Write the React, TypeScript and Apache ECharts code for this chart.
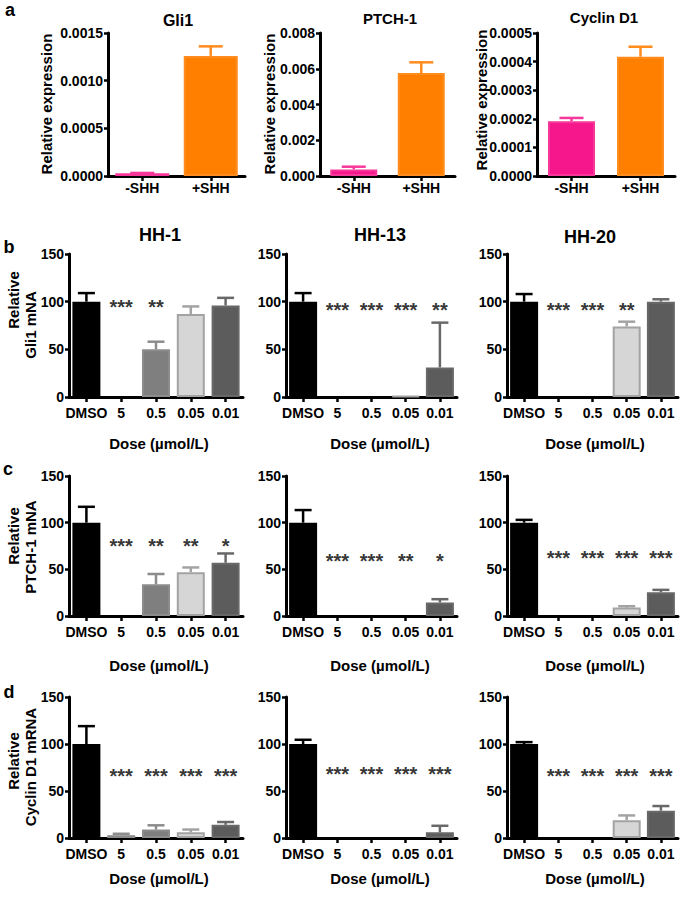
import React, { useEffect, useRef } from "react";
import * as echarts from "echarts";

// ---------- data ----------
const shhCats = ["-SHH", "+SHH"];
const gli1Mean = [0.000028, 0.00126];
const gli1Sem = [0.000004, 0.0001];
const ptch1Mean = [0.00037, 0.00576];
const ptch1Sem = [0.00015, 0.0006];
const cyclinMean = [0.000191, 0.000417];
const cyclinSem = [0.000012, 0.000035];

const doseCats = ["DMSO", "5", "0.5", "0.05", "0.01"];
const cellLines = ["HH-1", "HH-13", "HH-20"];

const gliHH1Mean = [100, 0, 50, 87, 96];
const gliHH1Sem = [9, 0, 8, 8, 8];
const gliHH13Mean = [100, 0, 0, 1, 31];
const gliHH13Sem = [9, 0, 0, 0, 47];
const gliHH20Mean = [100, 0, 0, 74, 100];
const gliHH20Sem = [8, 0, 0, 5, 2.5];

const ptchHH1Mean = [100, 0, 34, 47, 57];
const ptchHH1Sem = [17, 0, 11, 5, 10];
const ptchHH13Mean = [100, 0, 0, 0, 14.5];
const ptchHH13Sem = [13.5, 0, 0, 0, 3.5];
const ptchHH20Mean = [100, 0, 0, 9, 25.5];
const ptchHH20Sem = [3, 0, 0, 1.5, 2.5];

const cycHH1Mean = [100, 3, 9, 6, 14];
const cycHH1Sem = [19, 1.5, 4.5, 3, 3];
const cycHH13Mean = [100, 0, 0, 0, 6];
const cycHH13Sem = [4.5, 0, 0, 0, 7];
const cycHH20Mean = [100, 0, 0, 19, 29];
const cycHH20Sem = [2, 0, 0, 5, 5];

const gliHH1Stars = ["", "***", "**", "", ""];
const gliHH13Stars = ["", "***", "***", "***", "**"];
const gliHH20Stars = ["", "***", "***", "**", ""];
const ptchHH1Stars = ["", "***", "**", "**", "*"];
const ptchHH13Stars = ["", "***", "***", "**", "*"];
const ptchHH20Stars = ["", "***", "***", "***", "***"];
const cycHH1Stars = ["", "***", "***", "***", "***"];
const cycHH13Stars = ["", "***", "***", "***", "***"];
const cycHH20Stars = ["", "***", "***", "***", "***"];

const starLevels = [100, 96, 97, 80, 64, 67, 71, 73, 71];

const shhTitles = ["Gli1", "PTCH-1", "Cyclin D1"];
const rowNames = [
  ["Relative", "Gli1 mNA"],
  ["Relative", "PTCH-1 mNA"],
  ["Relative", "Cyclin D1 mRNA"],
];
const doseName = "Dose (\u00b5mol/L)";

// ---------- styling ----------
const FONT = "'Liberation Sans', Arial, Helvetica, sans-serif";
const shhFill = ["#f7178c", "#ff8000"];
const shhBorder = ["#f8379b", "#ff8c1f"];
const doseFill = ["#000000", "#8a8a8a", "#7f7f7f", "#d6d6d6", "#5c5c5c"];
const doseBorder = ["#000000", "#8c8c8c", "#8c8c8c", "#a3a3a3", "#686868"];

const W = 685;
const H = 902;

type Panel = {
  cats: string[];
  mean: number[];
  sem: number[];
  stars?: string[];
  starLevel?: number;
  left: number;
  top: number;
  width: number;
  height: number;
  max: number;
  interval: number;
  digits: number;
  fill: string[];
  border: string[];
  barWidth: number;
  cap: number;
  labelMargin: number;
};

function buildPanels(): Panel[] {
  const panels: Panel[] = [];
  const aLayout = [
    { left: 108, width: 137, barWidth: 54, cap: 12 },
    { left: 320, width: 135, barWidth: 47, cap: 12 },
    { left: 537, width: 138, barWidth: 47, cap: 12 },
  ];
  const aMeans = [gli1Mean, ptch1Mean, cyclinMean];
  const aSems = [gli1Sem, ptch1Sem, cyclinSem];
  const aMax = [0.0015, 0.008, 0.0005];
  const aInt = [0.0005, 0.002, 0.0001];
  const aDig = [4, 3, 4];
  for (let i = 0; i < 3; i++) {
    panels.push({
      cats: shhCats,
      mean: aMeans[i],
      sem: aSems[i],
      left: aLayout[i].left,
      top: 33,
      width: aLayout[i].width,
      height: 143,
      max: aMax[i],
      interval: aInt[i],
      digits: aDig[i],
      fill: shhFill,
      border: shhBorder,
      barWidth: aLayout[i].barWidth,
      cap: aLayout[i].cap,
      labelMargin: 5,
    });
  }
  const rowMeans = [
    [gliHH1Mean, gliHH13Mean, gliHH20Mean],
    [ptchHH1Mean, ptchHH13Mean, ptchHH20Mean],
    [cycHH1Mean, cycHH13Mean, cycHH20Mean],
  ];
  const rowSems = [
    [gliHH1Sem, gliHH13Sem, gliHH20Sem],
    [ptchHH1Sem, ptchHH13Sem, ptchHH20Sem],
    [cycHH1Sem, cycHH13Sem, cycHH20Sem],
  ];
  const rowStars = [
    [gliHH1Stars, gliHH13Stars, gliHH20Stars],
    [ptchHH1Stars, ptchHH13Stars, ptchHH20Stars],
    [cycHH1Stars, cycHH13Stars, cycHH20Stars],
  ];
  const rowTop = [254, 476, 697];
  const rowH = [143, 140, 141];
  const colLeft = [69, 286, 507];
  const colW = [174, 171, 171];
  for (let r = 0; r < 3; r++) {
    for (let c = 0; c < 3; c++) {
      panels.push({
        cats: doseCats,
        mean: rowMeans[r][c],
        sem: rowSems[r][c],
        stars: rowStars[r][c],
        starLevel: starLevels[r * 3 + c],
        left: colLeft[c],
        top: rowTop[r],
        width: colW[c],
        height: rowH[r],
        max: 150,
        interval: 50,
        digits: 0,
        fill: doseFill,
        border: doseBorder,
        barWidth: 28,
        cap: 8.5,
        labelMargin: 9,
      });
    }
  }
  return panels;
}

function buildOption() {
  const panels = buildPanels();
  const grid: any[] = [];
  const xAxis: any[] = [];
  const yAxis: any[] = [];
  const series: any[] = [];
  const axisLine = { show: true, lineStyle: { color: "#000", width: 3 } };
  const axisTick = { show: true, length: 5, lineStyle: { color: "#000", width: 2.5 } };

  panels.forEach((p, g) => {
    grid.push({ left: p.left, top: p.top, width: p.width, height: p.height, containLabel: false });
    xAxis.push({
      type: "category",
      gridIndex: g,
      data: p.cats,
      axisLine,
      axisTick: { ...axisTick, alignWithLabel: true },
      axisLabel: {
        color: "#000",
        fontFamily: FONT,
        fontWeight: "bold",
        fontSize: 14,
        margin: p.labelMargin,
        interval: 0,
      },
      splitLine: { show: false },
    });
    yAxis.push({
      type: "value",
      gridIndex: g,
      min: 0,
      max: p.max,
      interval: p.interval,
      axisLine,
      axisTick: { ...axisTick, length: 4 },
      axisLabel: {
        color: "#000",
        fontFamily: FONT,
        fontWeight: "bold",
        fontSize: 14,
        margin: 5,
        formatter: (v: number) => v.toFixed(p.digits),
      },
      splitLine: { show: false },
    });
    series.push({
      type: "bar",
      xAxisIndex: g,
      yAxisIndex: g,
      barWidth: p.barWidth,
      z: 2,
      data: p.mean.map((v, i) => ({
        value: v,
        itemStyle: { color: p.fill[i], borderColor: p.border[i], borderWidth: v > 0 ? 2 : 0 },
      })),
    });
    const colors = p.border;
    const cap = p.cap;
    series.push({
      type: "custom",
      xAxisIndex: g,
      yAxisIndex: g,
      z: 3,
      encode: { x: 0, y: [1, 2] },
      data: p.mean.map((m, i) => [i, m, m + p.sem[i]]),
      renderItem: (params: any, api: any) => {
        const i = api.value(0);
        const m = api.value(1);
        const t = api.value(2);
        if (!(t > m)) return null;
        const p0 = api.coord([i, m]);
        const p1 = api.coord([i, t]);
        const c = colors[params.dataIndex];
        return {
          type: "group",
          children: [
            { type: "line", shape: { x1: p0[0], y1: p0[1], x2: p1[0], y2: p1[1] }, style: { stroke: c, lineWidth: 2.5 } },
            { type: "line", shape: { x1: p1[0] - cap, y1: p1[1], x2: p1[0] + cap, y2: p1[1] }, style: { stroke: c, lineWidth: 2.5 } },
          ],
        };
      },
    });
    if (p.stars) {
      const lvl = p.starLevel as number;
      series.push({
        type: "scatter",
        xAxisIndex: g,
        yAxisIndex: g,
        symbolSize: 0,
        z: 4,
        silent: true,
        data: p.stars
          .map((s, i) => (s ? { name: s, value: [i, lvl] } : null))
          .filter((d) => d !== null),
        label: {
          show: true,
          position: "inside",
          formatter: "{b}",
          color: "#000",
          fontFamily: FONT,
          fontWeight: "bold",
          fontSize: 20,
          offset: [0, 5],
        },
      });
    }
  });

  const txt = (text: string, x: number, y: number, size: number, extra: any = {}) => ({
    type: "text",
    x,
    y,
    silent: true,
    ...extra,
    style: {
      text,
      fill: "#000",
      font: `bold ${size}px ${FONT}`,
      textAlign: "center",
      textVerticalAlign: "middle",
    },
  });

  const graphic: any[] = [
    txt("a", 10, 10, 18),
    txt("b", 9, 247, 18),
    txt("c", 8, 469, 18),
    txt("d", 9, 692, 18),
    txt(shhTitles[0], 178, 20, 16),
    txt(shhTitles[1], 390, 18, 15),
    txt(shhTitles[2], 604, 17, 15),
    txt("Relative expression", 46, 104, 15, { rotation: Math.PI / 2 }),
    txt("Relative expression", 269, 104, 15, { rotation: Math.PI / 2 }),
    txt("Relative expression", 481, 100, 15, { rotation: Math.PI / 2 }),
    txt(cellLines[0], 160, 235, 18),
    txt(cellLines[1], 380, 235, 18),
    txt(cellLines[2], 590, 237, 18),
  ];
  const nameY = [
    [300, 325],
    [536, 547],
    [761, 767],
  ];
  rowNames.forEach((rn, r) => {
    graphic.push(txt(rn[0], 13, nameY[r][0], 15, { rotation: Math.PI / 2 }));
    graphic.push(txt(rn[1], 30, nameY[r][1], 15, { rotation: Math.PI / 2 }));
  });
  const doseX = [159, 380, 595];
  const doseY = [443, 665, 878];
  doseY.forEach((y) => doseX.forEach((x) => graphic.push(txt(doseName, x, y, 15))));

  return {
    animation: false,
    backgroundColor: "#ffffff",
    grid,
    xAxis,
    yAxis,
    series,
    graphic,
  };
}

export default function App() {
  const ref = useRef<HTMLDivElement>(null);
  useEffect(() => {
    if (!ref.current) return;
    const chart = echarts.init(ref.current, undefined, { renderer: "svg", width: W, height: H });
    chart.setOption(buildOption() as any);
    return () => chart.dispose();
  }, []);
  return <div ref={ref} style={{ position: "absolute", left: 0, top: 0, width: W, height: H }} />;
}
